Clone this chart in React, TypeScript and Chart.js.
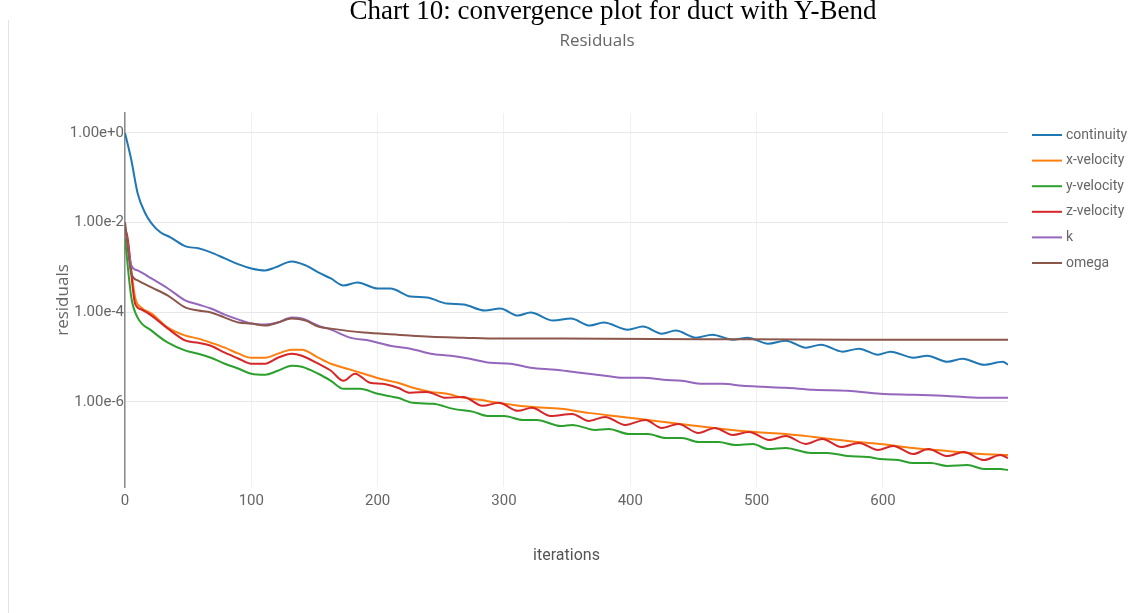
import React, { useEffect, useRef } from "react";
import { Chart, registerables } from "chart.js";

Chart.register(...registerables);

// ---------- data ----------
const seriesNames = ["continuity", "x-velocity", "y-velocity", "z-velocity", "k", "omega"];
const seriesColors = ["#1f77b4", "#ff7f0e", "#2ca02c", "#d62728", "#9467bd", "#8c564b"];

const continuityIter = [0, 5, 10, 16, 21, 28, 36, 48, 58, 68, 79, 90, 100, 111, 119, 132, 143, 153, 163, 173, 184, 200, 210, 226, 239, 255, 268, 285, 297, 311, 321, 339, 353, 368, 379, 398, 410, 425, 436, 452, 465, 481, 493, 509, 523, 539, 551, 568, 581, 596, 606, 624, 635, 651, 663, 680, 695, 699];
const continuityVal = [1.0, 0.249, 0.0454, 0.0162, 0.00966, 0.00608, 0.0047, 0.00295, 0.00267, 0.00217, 0.00159, 0.00117, 0.00095, 0.000857, 0.001, 0.00136, 0.00111, 0.000773, 0.000567, 0.000396, 0.000461, 0.000339, 0.000339, 0.000224, 0.000213, 0.000156, 0.000149, 0.000109, 0.000121, 8.43e-5, 9.84e-5, 6.52e-5, 7.22e-5, 5.04e-5, 5.88e-5, 4.09e-5, 4.78e-5, 3.33e-5, 3.89e-5, 2.71e-5, 3.16e-5, 2.44e-5, 2.71e-5, 1.99e-5, 2.32e-5, 1.62e-5, 1.89e-5, 1.32e-5, 1.54e-5, 1.13e-5, 1.32e-5, 9.66e-6, 1.07e-5, 7.87e-6, 9.18e-6, 6.74e-6, 7.87e-6, 6.74e-6];

const xVelIter = [0, 2, 8, 13, 21, 34, 48, 58, 68, 79, 90, 100, 111, 121, 132, 140, 153, 163, 176, 189, 202, 216, 228, 242, 255, 268, 281, 295, 307, 321, 345, 367, 394, 420, 446, 473, 499, 523, 545, 572, 598, 624, 651, 678, 699];
const xVelVal = [0.00608, 0.00403, 0.000213, 0.000127, 9.33e-5, 4.54e-5, 3.01e-5, 2.58e-5, 2.09e-5, 1.62e-5, 1.19e-5, 9.66e-6, 9.66e-6, 1.19e-5, 1.46e-5, 1.46e-5, 9.66e-6, 7.1e-6, 5.48e-6, 4.24e-6, 3.27e-6, 2.67e-6, 2.06e-6, 1.67e-6, 1.51e-6, 1.23e-6, 1.11e-6, 9.51e-7, 8.57e-7, 7.74e-7, 6.98e-7, 5.68e-7, 4.62e-7, 3.76e-7, 3.06e-7, 2.49e-7, 2.13e-7, 1.92e-7, 1.65e-7, 1.34e-7, 1.15e-7, 9.34e-8, 8.01e-8, 6.86e-8, 6.52e-8];

const yVelIter = [0, 5, 10, 21, 34, 48, 58, 68, 79, 90, 100, 111, 121, 132, 140, 153, 163, 173, 186, 200, 216, 228, 244, 260, 276, 287, 300, 315, 326, 345, 354, 372, 383, 399, 414, 428, 441, 454, 470, 483, 497, 509, 523, 543, 556, 572, 588, 598, 612, 624, 638, 651, 667, 680, 693, 699];
const yVelVal = [0.00446, 0.000213, 7.6e-5, 3.89e-5, 2.09e-5, 1.39e-5, 1.19e-5, 9.66e-6, 7.1e-6, 5.48e-6, 4.24e-6, 4.03e-6, 4.94e-6, 6.4e-6, 6.08e-6, 4.24e-6, 2.95e-6, 1.95e-6, 1.95e-6, 1.51e-6, 1.23e-6, 9.51e-7, 9.03e-7, 6.98e-7, 5.98e-7, 4.86e-7, 4.86e-7, 3.95e-7, 3.95e-7, 2.9e-7, 3.06e-7, 2.37e-7, 2.49e-7, 1.92e-7, 1.92e-7, 1.56e-7, 1.56e-7, 1.27e-7, 1.27e-7, 1.09e-7, 1.15e-7, 8.87e-8, 9.34e-8, 7.23e-8, 7.23e-8, 6.19e-8, 5.87e-8, 5.3e-8, 5.04e-8, 4.31e-8, 4.31e-8, 3.7e-8, 3.89e-8, 3.17e-8, 3.17e-8, 3.01e-8];

const zVelIter = [0, 2, 8, 13, 21, 34, 48, 58, 68, 79, 90, 100, 111, 121, 132, 140, 153, 163, 173, 182, 194, 204, 216, 226, 239, 254, 268, 283, 296, 311, 322, 337, 354, 367, 380, 396, 412, 425, 438, 454, 467, 481, 494, 510, 523, 539, 552, 567, 581, 596, 608, 624, 636, 651, 664, 680, 693, 699];
const zVelVal = [0.00747, 0.0047, 0.000156, 0.000115, 8.43e-5, 4.31e-5, 2.32e-5, 2.09e-5, 1.79e-5, 1.25e-5, 9.18e-6, 7.1e-6, 7.1e-6, 9.66e-6, 1.19e-5, 1.07e-5, 7.1e-6, 4.94e-6, 2.95e-6, 4.24e-6, 2.67e-6, 2.53e-6, 2.06e-6, 1.59e-6, 1.67e-6, 1.23e-6, 1.29e-6, 8.15e-7, 9.51e-7, 6.3e-7, 7.35e-7, 4.86e-7, 5.39e-7, 3.76e-7, 4.62e-7, 3.06e-7, 3.95e-7, 2.62e-7, 3.22e-7, 2.02e-7, 2.62e-7, 1.83e-7, 2.13e-7, 1.41e-7, 1.73e-7, 1.15e-7, 1.49e-7, 9.84e-8, 1.21e-7, 8.43e-8, 1.04e-7, 6.86e-8, 8.87e-8, 6.18e-8, 7.6e-8, 5.04e-8, 6.52e-8, 5.58e-8];

const kIter = [0, 5, 10, 21, 34, 48, 58, 68, 79, 90, 100, 111, 121, 132, 140, 153, 163, 178, 194, 210, 226, 242, 258, 273, 289, 305, 321, 341, 354, 367, 380, 394, 410, 426, 441, 457, 473, 489, 505, 523, 545, 572, 598, 624, 651, 678, 699];
const kVal = [0.00828, 0.00111, 0.000857, 0.000567, 0.000339, 0.000182, 0.000149, 0.000121, 8.87e-5, 6.85e-5, 5.58e-5, 5.3e-5, 5.88e-5, 7.6e-5, 7.22e-5, 5.04e-5, 4.09e-5, 2.71e-5, 2.32e-5, 1.79e-5, 1.54e-5, 1.19e-5, 1.07e-5, 9.18e-6, 7.47e-6, 7.1e-6, 5.78e-6, 5.21e-6, 4.7e-6, 4.24e-6, 3.82e-6, 3.45e-6, 3.45e-6, 3.11e-6, 2.95e-6, 2.53e-6, 2.53e-6, 2.28e-6, 2.17e-6, 2.06e-6, 1.86e-6, 1.77e-6, 1.51e-6, 1.44e-6, 1.36e-6, 1.23e-6, 1.23e-6];

const omegaIter = [0, 5, 10, 21, 34, 48, 58, 68, 79, 90, 100, 111, 121, 132, 143, 153, 163, 189, 216, 242, 268, 295, 345, 457, 576, 699];
const omegaVal = [0.0102, 0.000735, 0.000512, 0.000357, 0.000236, 0.000127, 0.000109, 9.84e-5, 7.6e-5, 5.88e-5, 5.58e-5, 5.04e-5, 5.88e-5, 7.22e-5, 6.52e-5, 4.78e-5, 4.31e-5, 3.51e-5, 3.16e-5, 2.85e-5, 2.71e-5, 2.58e-5, 2.58e-5, 2.51e-5, 2.44e-5, 2.44e-5];

const xTickValues = [0, 100, 200, 300, 400, 500, 600];
const xTickLabels = ["0", "100", "200", "300", "400", "500", "600"];
const yTickValues = [1, 1e-2, 1e-4, 1e-6];
const yTickLabels = ["1.00e+0", "1.00e-2", "1.00e-4", "1.00e-6"];

const chartTitle = "Chart 10: convergence plot for duct with Y-Bend";
const plotTitle = "Residuals";
const xAxisTitle = "iterations";
const yAxisTitle = "residuals";

const X_MIN = 0;
const X_MAX = 699;
const Y_MIN = 1.26e-8;
const Y_MAX = 2.79;

// ---------- component ----------
const legendPlugin = {
  id: "plotlyLikeLegend",
  afterDraw(chart: any) {
    const ctx = chart.ctx as CanvasRenderingContext2D;
    const area = chart.chartArea;
    ctx.save();
    chart.data.datasets.forEach((ds: any, i: number) => {
      const y = 135 + i * 25.6;
      const x0 = area.right + 24;
      ctx.strokeStyle = ds.borderColor;
      ctx.lineWidth = 2;
      ctx.beginPath();
      ctx.moveTo(x0, y);
      ctx.lineTo(x0 + 30, y);
      ctx.stroke();
      ctx.fillStyle = "#666";
      ctx.font = "14px Roboto";
      ctx.textBaseline = "middle";
      ctx.textAlign = "left";
      ctx.fillText(ds.label, x0 + 34, y);
    });
    ctx.restore();
  },
};

export default function App() {
  const canvasRef = useRef<HTMLCanvasElement>(null);

  useEffect(() => {
    const canvas = canvasRef.current;
    if (!canvas) return;
    const iters = [continuityIter, xVelIter, yVelIter, zVelIter, kIter, omegaIter];
    const vals = [continuityVal, xVelVal, yVelVal, zVelVal, kVal, omegaVal];
    const datasets = seriesNames.map((name, i) => ({
      label: name,
      data: iters[i].map((it, j) => ({ x: it, y: vals[i][j] })),
      borderColor: seriesColors[i],
      backgroundColor: seriesColors[i],
      borderWidth: 2,
      pointRadius: 0,
      fill: false,
      cubicInterpolationMode: "monotone" as const,
      order: seriesNames.length - i,
    }));

    const chart = new Chart(canvas, {
      type: "line",
      data: { datasets },
      options: {
        animation: false,
        responsive: false,
        devicePixelRatio: 1,
        layout: { padding: { left: 0, top: 113, right: 123, bottom: 0 } },
        plugins: {
          legend: { display: false },
          title: { display: false },
          tooltip: { enabled: false },
        },
        scales: {
          x: {
            type: "linear",
            min: X_MIN,
            max: X_MAX,
            afterBuildTicks: (scale: any) => {
              scale.ticks = xTickValues.map((v) => ({ value: v }));
            },
            afterFit: (scale: any) => {
              scale.height = 126;
            },
            ticks: {
              callback: (_v: any, i: number) => xTickLabels[i],
              color: "#666",
              font: { family: "Roboto", size: 15 },
              padding: 5,
              maxRotation: 0,
              autoSkip: false,
            },
            grid: { color: "#f0f0f0", lineWidth: 1, drawTicks: false },
            border: { display: false },
            title: {
              display: true,
              text: xAxisTitle,
              color: "#555",
              font: { family: "Roboto", size: 16 },
              padding: { top: 0, bottom: 47 },
            },
          },
          y: {
            type: "logarithmic",
            min: Y_MIN,
            max: Y_MAX,
            afterBuildTicks: (scale: any) => {
              scale.ticks = yTickValues.map((v) => ({ value: v }));
            },
            afterFit: (scale: any) => {
              scale.width = 125;
            },
            ticks: {
              callback: (_v: any, i: number) => yTickLabels[i],
              color: "#666",
              font: { family: "Roboto", size: 15 },
              padding: 1,
              autoSkip: false,
            },
            grid: { color: "#e8e8e8", lineWidth: 1, drawTicks: false },
            border: { display: true, color: "#8a8a8a", width: 1.5 },
            title: {
              display: true,
              text: yAxisTitle,
              color: "#666",
              font: { family: "Open Sans", size: 17 },
              padding: { top: 53, bottom: 0 },
            },
          },
        },
      },
      plugins: [legendPlugin],
    } as any);

    return () => chart.destroy();
  }, []);

  return (
    <div
      style={{
        position: "fixed",
        left: 0,
        top: 0,
        width: 1131,
        height: 613,
        background: "#fff",
        overflow: "hidden",
      }}
    >
      <div
        style={{
          position: "absolute",
          left: 8,
          top: 20,
          bottom: 0,
          borderLeft: "1px solid #e4e4e4",
        }}
      />
      <canvas
        ref={canvasRef}
        width={1131}
        height={613}
        style={{ position: "absolute", left: 0, top: 0, width: 1131, height: 613 }}
      />
      <div
        style={{
          position: "absolute",
          left: 613,
          top: -3,
          transform: "translateX(-50%)",
          whiteSpace: "nowrap",
          fontFamily: "'Liberation Serif', 'Times New Roman', serif",
          fontSize: 27,
          lineHeight: "27px",
          color: "#000",
        }}
      >
        {chartTitle}
      </div>
      <div
        style={{
          position: "absolute",
          left: 597,
          top: 28,
          transform: "translateX(-50%)",
          whiteSpace: "nowrap",
          fontFamily: "'Open Sans', sans-serif",
          fontSize: 17,
          lineHeight: "24px",
          color: "#666",
        }}
      >
        {plotTitle}
      </div>
    </div>
  );
}
